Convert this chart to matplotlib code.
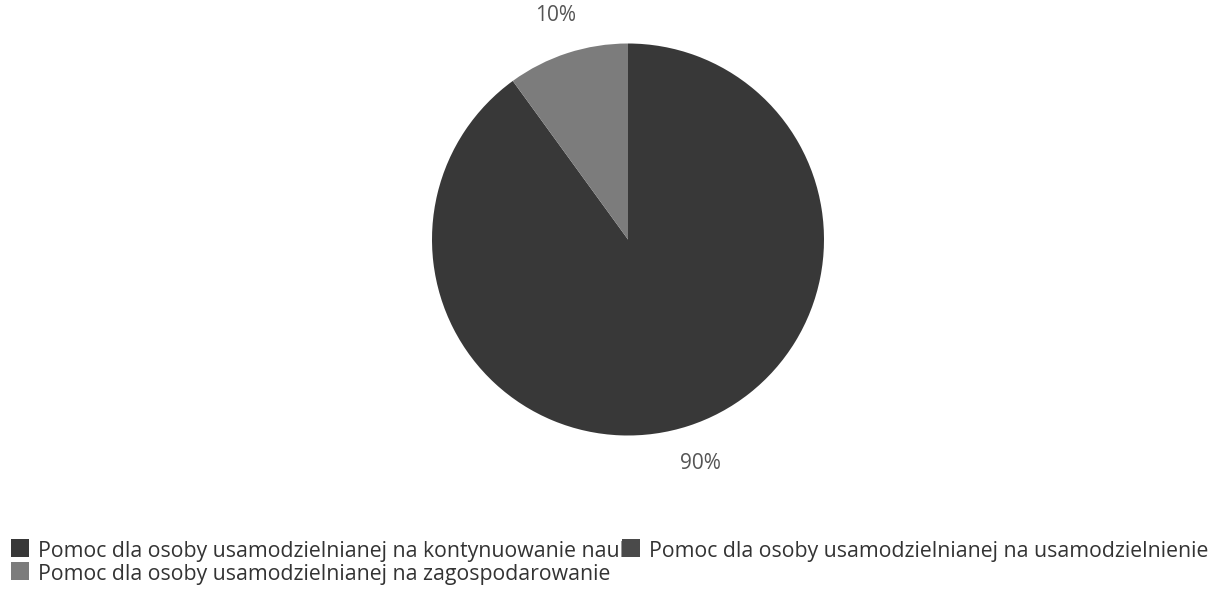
import matplotlib.pyplot as plt
from matplotlib.patches import Rectangle

plt.rcParams['font.family'] = ['Open Sans', 'DejaVu Sans']

labels = ['Pomoc dla osoby usamodzielnianej na kontynuowanie nauki',
          'Pomoc dla osoby usamodzielnianej na usamodzielnienie',
          'Pomoc dla osoby usamodzielnianej na zagospodarowanie']
values = [90, 0, 10]
colors = ['#383838', '#4a4a4a', '#7c7c7c']

W, H = 1213, 591
fig = plt.figure(figsize=(W / 100, H / 100), dpi=100)

# pie centre / radius in pixels
cx, cy, r = 628, 239.5, 196
ax = fig.add_axes([(cx - r) / W, (H - cy - r) / H, 2 * r / W, 2 * r / H])

def pct(p):
    return '' if p < 0.5 else '%d%%' % round(p)

ax.pie(values, colors=colors, startangle=90, counterclock=False,
       autopct=pct, pctdistance=1.2, radius=1,
       wedgeprops=dict(linewidth=0),
       textprops=dict(color='#555555', fontsize=15))
ax.set_xlim(-1, 1)
ax.set_ylim(-1, 1)
ax.set_aspect('equal')
ax.axis('off')

# legend drawn by hand (the original lets entry 1 run under entry 2's marker)
# (marker x, text baseline y) in pixels for each entry
slots = [(11, 557), (622, 557), (11, 580)]
box = 18
for i in range(len(labels)):
    mx, by = slots[i]
    fig.text((mx + box + 9) / W, 1 - by / H, labels[i], fontsize=15.3,
             color='#333333', va='baseline', ha='left', zorder=1)
for i in range(len(labels)):
    mx, by = slots[i]
    fig.add_artist(Rectangle((mx / W, 1 - by / H), box / W, box / H,
                             transform=fig.transFigure, facecolor=colors[i],
                             edgecolor='none', zorder=3))

fig.savefig('out.png', dpi=100)
